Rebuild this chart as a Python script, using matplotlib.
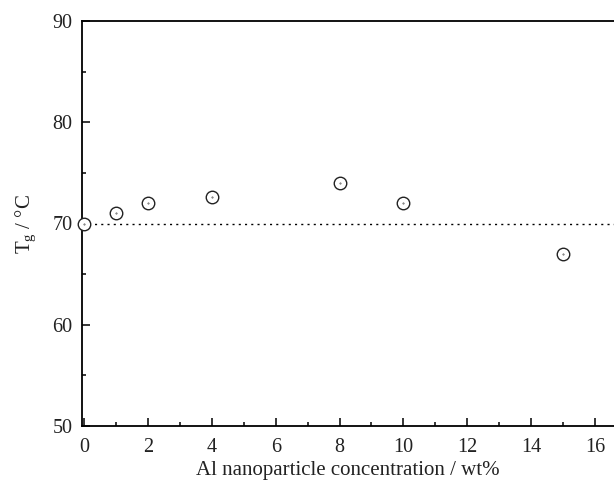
import numpy as np
import matplotlib.pyplot as plt
from matplotlib.ticker import MultipleLocator

plt.rcParams['font.family'] = ['Liberation Serif', 'DejaVu Serif']
plt.rcParams['mathtext.fontset'] = 'custom'
plt.rcParams['mathtext.rm'] = 'Liberation Serif'
plt.rcParams['mathtext.it'] = 'Liberation Serif'

# data
conc = [0, 1, 2, 4, 8, 10, 15]
tg = [70.0, 71.0, 72.0, 72.6, 74.0, 72.0, 67.0]
tg_ref = 70.0

fig = plt.figure(figsize=(6.14, 4.88), dpi=100)
ax = fig.add_axes([82/614, 62/488, 1 - 82/614, (426-21)/488])

ax.axhline(tg_ref, color='black', ls=(0, (1.5, 3)), lw=1.0, zorder=1)
ax.plot(conc, tg, ls='none', marker='o', ms=9, mfc='white', mec='#222222', mew=1.0, zorder=3, clip_on=False)
ax.plot(conc, tg, ls='none', marker='.', ms=0.8, color='#444444', zorder=4, clip_on=False)

ax.set_xlim(-0.07, 16.6)
ax.set_ylim(50, 90)
ax.xaxis.set_major_locator(MultipleLocator(2))
ax.xaxis.set_minor_locator(MultipleLocator(1))
ax.yaxis.set_major_locator(MultipleLocator(10))
ax.yaxis.set_minor_locator(MultipleLocator(5))
ax.tick_params(which='both', direction='in', top=False, right=False, labelsize=14.5, width=1.1,
               labelcolor='#222222')
ax.tick_params(which='major', length=6)
ax.tick_params(which='minor', length=3)
ax.tick_params(axis='x', which='major', pad=8.5)
ax.tick_params(axis='y', which='major', pad=7)
ax.spines['right'].set_visible(False)
for s in ['left', 'bottom', 'top']:
    ax.spines[s].set_linewidth(1.3)

ax.set_xlabel('Al nanoparticle concentration / wt%', fontsize=15, labelpad=3, color='#222222')
ax.set_ylabel(r'T$_\mathrm{g}$ / °C', fontsize=15, labelpad=10, color='#222222')

fig.savefig('out.png', dpi=100)
